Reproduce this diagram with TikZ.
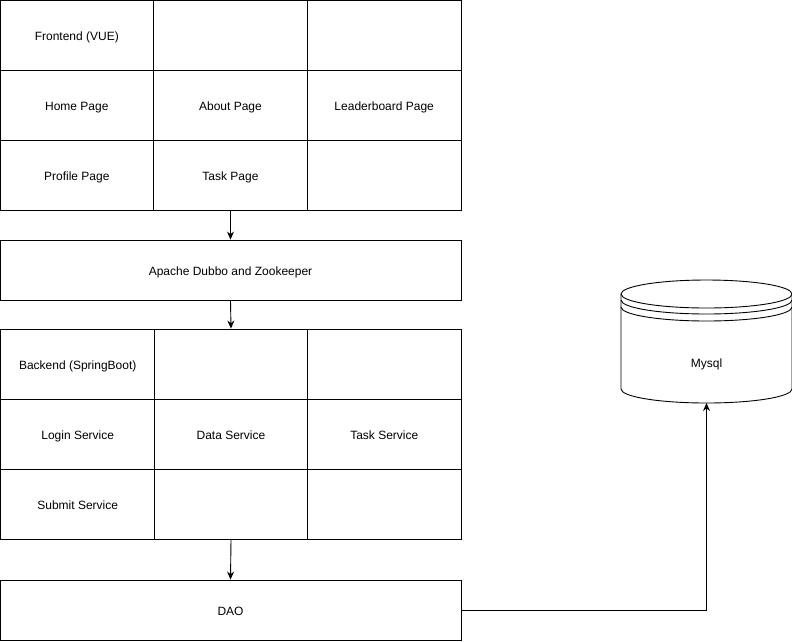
\documentclass[tikz,border=0pt]{standalone}
\usepackage{fontspec}
\setmainfont{Liberation Sans}
\usetikzlibrary{arrows.meta}

\begin{document}
\begin{tikzpicture}[x=1pt,y=-1pt,>={Stealth[length=8pt,width=7pt]},line width=0.9pt,
  cell/.style={draw,minimum width=153.6pt,minimum height=70pt,inner sep=0pt,
    text height=1.05em,text depth=0.2em},
  layer/.style={draw,minimum width=461pt,minimum height=60pt,inner sep=0pt,
    text height=1.05em,text depth=0.2em}]
  \fontsize{12}{14}\selectfont
  \useasboundingbox (0,0) rectangle (792,641);

  % Frontend
  \node[cell] (fe11) at (76.8,35) {Frontend (VUE)};
  \node[cell] (fe12) at (230.5,35) {};
  \node[cell] (fe13) at (384.2,35) {};
  \node[cell] (fe21) at (76.8,105) {Home Page};
  \node[cell] (fe22) at (230.5,105) {About Page};
  \node[cell] (fe23) at (384.2,105) {Leaderboard Page};
  \node[cell] (fe31) at (76.8,175) {Profile Page};
  \node[cell] (fe32) at (230.5,175) {Task Page};
  \node[cell] (fe33) at (384.2,175) {};

  % Dubbo
  \node[layer] (dubbo) at (230.5,270) {Apache Dubbo and Zookeeper};

  % Backend
  \node[cell] (be11) at (77.7,364) {Backend (SpringBoot)};
  \node[cell] (be12) at (231,364) {};
  \node[cell] (be13) at (384.3,364) {};
  \node[cell] (be21) at (77.7,434) {Login Service};
  \node[cell] (be22) at (231,434) {Data Service};
  \node[cell] (be23) at (384.3,434) {Task Service};
  \node[cell] (be31) at (77.7,504) {Submit Service};
  \node[cell] (be32) at (231,504) {};
  \node[cell] (be33) at (384.3,504) {};

  % DAO
  \node[layer] (dao) at (230.5,610) {DAO};

  % Mysql
  \def\dbx{706.5}
  \def\rx{85.5}
  \def\ry{14}
  \draw (\dbx,294) ellipse[x radius=\rx,y radius=\ry];
  \draw (\dbx-\rx,300) arc[start angle=180,end angle=0,x radius=\rx,y radius=\ry];
  \draw (\dbx-\rx,307) arc[start angle=180,end angle=0,x radius=\rx,y radius=\ry];
  \draw (\dbx-\rx,294) -- (\dbx-\rx,389)
    arc[start angle=180,end angle=0,x radius=\rx,y radius=\ry] -- (\dbx+\rx,294);
  \node[text height=1.05em,text depth=0.2em] (db) at (\dbx,362) {Mysql};
  \coordinate (dbbot) at (\dbx,403);

  % 矢印
  \draw[->] (fe32.south) -- (dubbo.north);
  \draw[->] (dubbo.south) -- (be12.north);
  \draw[->] (be32.south) -- (dao.north);
  \draw[->] (dao.east) -| (dbbot);
\end{tikzpicture}
\end{document}
